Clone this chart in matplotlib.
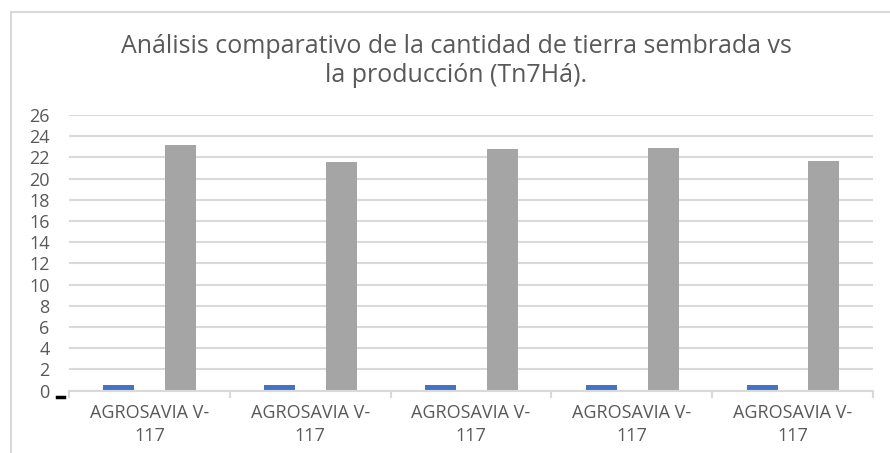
import matplotlib.pyplot as plt
from matplotlib.lines import Line2D
from matplotlib.patches import Rectangle

# datos
variedades = ["AGROSAVIA V-\n117"] * 5
tierra_sembrada = [0.5, 0.5, 0.5, 0.5, 0.5]
produccion = [23.2, 21.6, 22.75, 22.9, 21.7]
yticks = list(range(0, 27, 2))

AZUL = "#4472c4"
GRIS = "#a5a5a5"
TEXTO = "#595959"
LINEA = "#d9d9d9"


def plot_chart():
    fig = plt.figure(figsize=(8.9, 4.53), dpi=100)
    ax = fig.add_axes([69 / 890, 62.5 / 453, 804 / 890, 275.5 / 453])

    centros = [1 + 2 * i for i in range(len(variedades))]
    ancho = 0.385
    ax.bar([c - 0.38 for c in centros], tierra_sembrada, width=ancho, color=AZUL, zorder=3)
    ax.bar([c + 0.39 for c in centros], produccion, width=ancho, color=GRIS, zorder=3)

    ax.set_xlim(0, 2 * len(variedades))
    ax.set_ylim(0, 26)
    ax.set_yticks(yticks)
    ax.set_xticks(centros)
    ax.set_xticklabels(variedades, fontsize=13, color=TEXTO, family="Open Sans", linespacing=1.35)
    ax.set_xticks(range(0, 2 * len(variedades) + 1), minor=True)
    ax.tick_params(axis="x", which="major", length=0, pad=10)
    ax.tick_params(axis="x", which="minor", length=5, color=LINEA, width=1.5)
    ax.tick_params(axis="y", length=0, pad=14, labelsize=13, labelcolor=TEXTO)
    for lab in ax.get_yticklabels():
        lab.set_family("Open Sans")

    ax.grid(axis="y", color=LINEA, linewidth=1.5, zorder=0)
    for s in ["top", "right", "left"]:
        ax.spines[s].set_visible(False)
    ax.spines["bottom"].set_color(LINEA)
    ax.spines["bottom"].set_linewidth(1.5)
    ax.spines["bottom"].set_zorder(4)

    fig.text(456 / 890, 1 - 61 / 453,
             "Análisis comparativo de la cantidad de tierra sembrada vs\nla producción (Tn7Há).",
             ha="center", va="center", fontsize=18, color=TEXTO, family="Open Sans",
             linespacing=1.2)

    # marco del grafico y guion negro
    fig.add_artist(Rectangle((10.5 / 890, -0.05), 0.99, 1.05 - 12.5 / 453,
                             transform=fig.transFigure, fill=False,
                             edgecolor=LINEA, linewidth=1.5))
    fig.add_artist(Line2D([57 / 890, 64 / 890], [1 - 397 / 453, 1 - 397 / 453],
                          transform=fig.transFigure, color="black", linewidth=2.5))

    fig.savefig("out.png", dpi=100)


if __name__ == "__main__":
    plot_chart()
